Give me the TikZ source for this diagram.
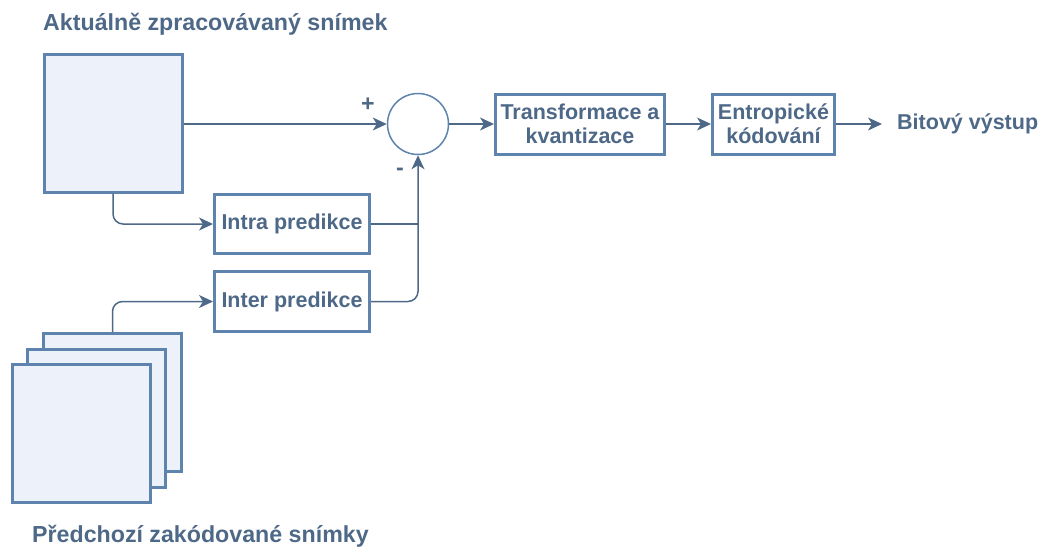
\documentclass[tikz,border=0pt]{standalone}
\usepackage{fontspec}
\setmainfont{Liberation Sans}
\usetikzlibrary{arrows.meta}
\definecolor{framecol}{HTML}{5E83AD}
\definecolor{framefill}{HTML}{EDF1F9}
\definecolor{inkcol}{HTML}{4E6987}
\newcommand\blkfont{\fontsize{21.5}{24}\selectfont\bfseries}
\newcommand\ttlfont{\fontsize{23.2}{26}\selectfont\bfseries}
\begin{document}
\begin{tikzpicture}[x=1pt,y=-1pt,
  frame/.style={draw=framecol, fill=framefill, line width=3pt,
    minimum width=138pt, minimum height=138pt, inner sep=0pt},
  blockbox/.style={draw=framecol, fill=white, line width=3pt, inner sep=0pt,
    text=inkcol, font=\blkfont, align=center},
  caption/.style={text=inkcol, font=\ttlfont, inner sep=0pt},
  link/.style={draw=inkcol, line width=1.5pt},
  arr/.style={link, -{Stealth[length=14pt,width=13pt,inset=4pt]}},
]
\useasboundingbox (0,0) rectangle (1041,547);

% current frame
\node[caption, anchor=west] (ttop) at (43,24) {Aktuálně zpracovávaný snímek};
\node[frame] (cur) at (113,123) {};

% stack of previously coded frames
\node[frame] (prev3) at (112.5,402.5) {};
\node[frame] (prev2) at (96,418) {};
\node[frame] (prev1) at (81.5,433) {};
\node[caption, anchor=west] (tbot) at (32,536) {Předchozí zakódované snímky};

% processing blocks
\node[draw=framecol, line width=1.5pt, fill=white, circle, minimum size=61pt, inner sep=0pt] (sum) at (418,124) {};
\node[blockbox, minimum width=169pt, minimum height=60pt] (tk) at (580,124) {Transformace a\\kvantizace};
\node[blockbox, minimum width=122pt, minimum height=60pt] (ent) at (773.5,124) {Entropické\\kódování};
\node[blockbox, minimum width=155pt, minimum height=59pt] (intra) at (292,224) {Intra predikce};
\node[blockbox, minimum width=155pt, minimum height=60pt] (inter) at (292,301.5) {Inter predikce};
\node[text=inkcol, font=\blkfont, anchor=west, inner xsep=15pt, inner ysep=0pt] (out) at (882,124) {Bitový výstup};

% signs at the summing junction
\node[text=inkcol, font=\ttlfont, inner sep=0pt] (plus) at (368,105) {+};
\node[text=inkcol, font=\ttlfont, inner sep=0pt] (minus) at (400,172) {-};

% connectors
\draw[arr] (cur.east |- sum.west) -- (sum.west);
\draw[arr] (sum.east) -- (tk.west);
\draw[arr] (tk.east) -- (ent.west);
\draw[arr] (ent.east) -- (out.west);
\draw[arr, rounded corners=10pt] (cur.south) |- (intra.west);
\draw[arr, rounded corners=10pt] (prev3.north) |- (inter.west);
\draw[link] (intra.east) -- (intra.east -| sum.south);
\draw[arr, rounded corners=10pt] (inter.east) -| (sum.south);
\end{tikzpicture}
\end{document}
